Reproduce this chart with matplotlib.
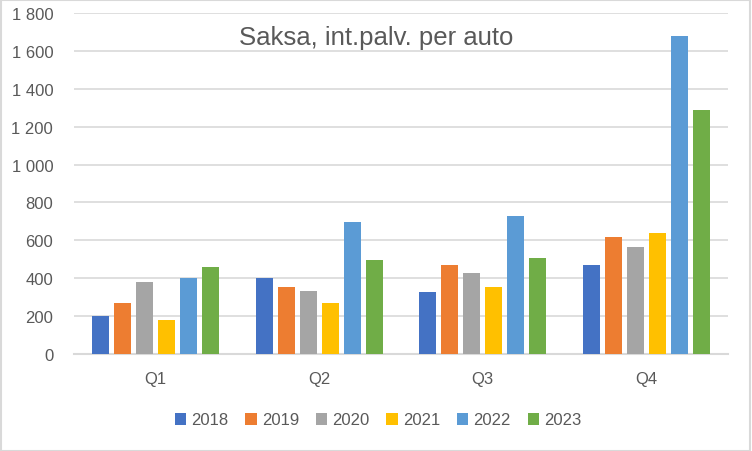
import numpy as np
import matplotlib
matplotlib.use("Agg")
import matplotlib.pyplot as plt
from matplotlib.patches import Rectangle

# Data
quarters = ["Q1", "Q2", "Q3", "Q4"]
years = ["2018", "2019", "2020", "2021", "2022", "2023"]
v2018 = [200, 400, 325, 468]
v2019 = [268, 356, 468, 620]
v2020 = [378, 335, 430, 567]
v2021 = [178, 268, 352, 641]
v2022 = [400, 698, 731, 1677]
v2023 = [457, 494, 509, 1286]
series = [v2018, v2019, v2020, v2021, v2022, v2023]
colors = ["#4472C4", "#ED7D31", "#A5A5A5", "#FFC000", "#5B9BD5", "#70AD47"]
yticks = [0, 200, 400, 600, 800, 1000, 1200, 1400, 1600, 1800]
ytick_labels = ["0", "200", "400", "600", "800", "1 000", "1 200", "1 400", "1 600", "1 800"]

plt.rcParams['font.family'] = ['Liberation Sans', 'DejaVu Sans']

fig = plt.figure(figsize=(7.52, 4.52), dpi=100)
ax = fig.add_axes([74 / 752, 1 - 355 / 452, 654 / 752, 341 / 452])

x = np.arange(len(quarters))
pitch = 0.1346
width = 0.104
for i, (vals, c, yr) in enumerate(zip(series, colors, years)):
    ax.bar(x + (i - 2.5) * pitch, vals, width=width, color=c, label=yr, zorder=3)

ax.set_xlim(-0.5, 3.5)
ax.set_ylim(0, 1800)
ax.set_yticks(yticks)
ax.set_yticklabels(ytick_labels)
ax.set_xticks(x)
ax.set_xticklabels(quarters)
ax.tick_params(axis='both', length=0, labelsize=12, colors="#595959")
ax.tick_params(axis='y', pad=15)
ax.tick_params(axis='x', pad=12)
ax.yaxis.grid(True, color="#D9D9D9", linewidth=1.2, zorder=0)
for side in ["top", "right", "left"]:
    ax.spines[side].set_visible(False)
ax.spines["bottom"].set_color("#D9D9D9")
ax.spines["bottom"].set_linewidth(1.5)

ax.text(0.462, 0.93, "Saksa, int.palv. per auto", transform=ax.transAxes,
        ha="center", va="center", fontsize=18.5, color="#595959")

fig.legend(loc="center", bbox_to_anchor=(378 / 752, 1 - 421 / 452), ncol=6,
           frameon=False, fontsize=12, labelcolor="#595959",
           handlelength=0.7, handleheight=0.7, handletextpad=0.3,
           columnspacing=1.0)

fig.patches.append(Rectangle((0.001, 0.001), 0.997, 0.997, transform=fig.transFigure,
                             fill=False, edgecolor="#D9D9D9", linewidth=1.5))

fig.savefig("out.png", dpi=100)
